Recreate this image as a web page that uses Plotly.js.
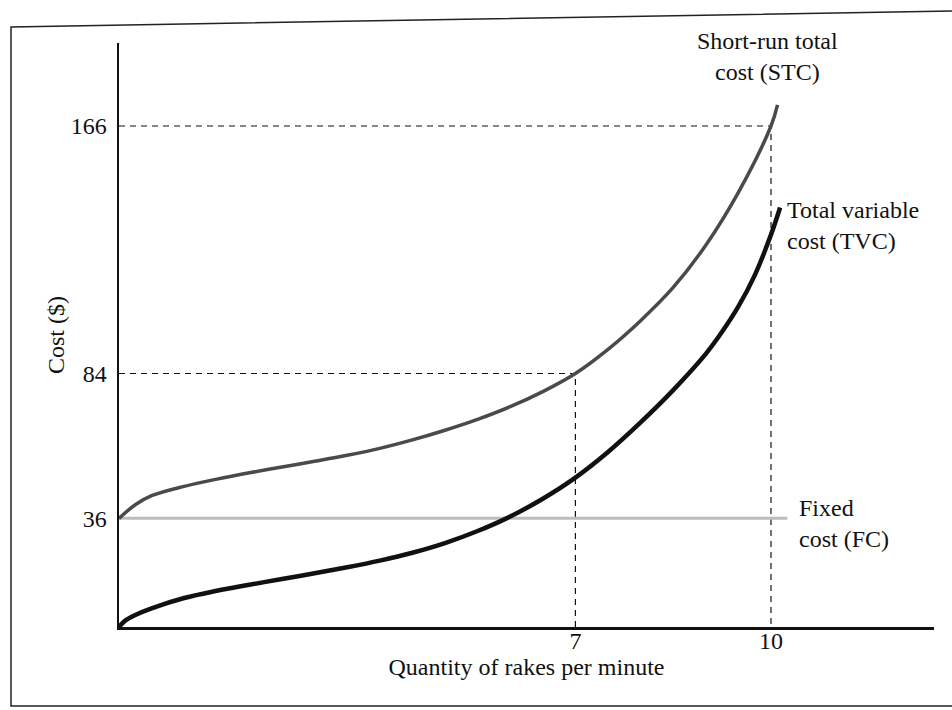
<!DOCTYPE html>
<html>
<head>
<meta charset="utf-8">
<script src="https://cdn.plot.ly/plotly-3.0.1.min.js"></script>
<style>
html, body { margin: 0; padding: 0; background: #ffffff; }
#chart { width: 952px; height: 710px; }
</style>
</head>
<body>
<div id="chart"></div>
<script>
// ---- data ----
const stcQuantity = [0, 0.25, 0.5, 1, 1.5, 2, 2.5, 3, 3.5, 4, 4.5, 5, 5.5, 6, 6.5, 7, 7.5, 8, 8.5, 9, 9.5, 10, 10.1];
const stcCost     = [36, 40.5, 43.5, 46.6, 49.0, 51.1, 53.0, 54.9, 56.9, 59.2, 62.0, 65.2, 68.8, 73, 78, 84, 92, 101.5, 112.5, 126.5, 144, 166, 173];

const tvcQuantity = [0, 0.1, 0.25, 0.5, 1, 1.5, 2, 2.5, 3, 3.5, 4, 4.5, 5, 5.5, 6, 6.5, 7, 7.5, 8, 8.5, 9, 9.25, 9.5, 9.75, 10, 10.14];
const tvcCost     = [0, 2.2, 4, 6.2, 9.6, 12, 14, 15.9, 17.8, 19.8, 22, 24.6, 27.8, 31.8, 36.6, 42.5, 49.5, 58, 67.8, 78.5, 90.5, 97.8, 106.2, 116.5, 130, 139];

const fcQuantity = [0, 10.25];
const fcCost     = [36, 36];

const markQuantity = [7, 10];        // dashed guides drop to these quantities
const markCost     = [84, 166];      // ... from these cost levels
const xTickVals = [7, 10];
const xTickText = ['7', '10'];
const yTickVals = [36, 84, 166];
const yTickText = ['36', '84', '166'];

// ---- layout geometry (pixels) ----
const W = 952, H = 710, L = 119, R = 18, T = 43, B = 83;
const plotW = W - L - R, plotH = H - T - B;
const px2paperX = px => (px - L) / plotW;
const px2paperY = py => (T + plotH - py) / plotH;

const serif = '"Liberation Serif", "Times New Roman", Times, serif';
const FS = 24;

const traces = [];

// dashed guide lines
for (let i = 0; i < markQuantity.length; i++) {
  traces.push({
    x: [0, markQuantity[i], markQuantity[i]],
    y: [markCost[i], markCost[i], 0],
    mode: 'lines',
    line: { color: '#111', width: 1.2, dash: '6px,5px' },
    hoverinfo: 'skip'
  });
}

// fixed cost
traces.push({
  x: fcQuantity, y: fcCost, mode: 'lines', name: 'FC',
  line: { color: '#bcbcbc', width: 3 }
});

// total variable cost
traces.push({
  x: tvcQuantity, y: tvcCost, mode: 'lines', name: 'TVC',
  line: { color: '#111', width: 4.5, shape: 'spline', smoothing: 1 }
});

// short-run total cost
traces.push({
  x: stcQuantity, y: stcCost, mode: 'lines', name: 'STC',
  line: { color: '#4a4a4a', width: 3.5, shape: 'spline', smoothing: 1 }
});

const layout = {
  width: W, height: H,
  margin: { l: L, r: R, t: T, b: B, pad: 0 },
  paper_bgcolor: '#ffffff', plot_bgcolor: '#ffffff',
  showlegend: false, hovermode: false,
  font: { family: serif, size: FS, color: '#111' },
  xaxis: {
    range: [0, 12.5], showgrid: false, zeroline: false,
    showline: true, linecolor: '#111', linewidth: 2.5,
    tickmode: 'array', tickvals: xTickVals, ticktext: xTickText,
    ticks: '', ticklabelstandoff: -9,
    tickfont: { family: serif, size: FS, color: '#111' },
    title: { text: 'Quantity of rakes per minute', standoff: 2, font: { family: serif, size: FS, color: '#111' } },
    fixedrange: true
  },
  yaxis: {
    range: [0, 193.5], showgrid: false, zeroline: false,
    showline: true, linecolor: '#111', linewidth: 2.5,
    tickmode: 'array', tickvals: yTickVals, ticktext: yTickText,
    ticks: '', ticklabelstandoff: 5,
    tickfont: { family: serif, size: FS, color: '#111' },
    title: { text: 'Cost ($)', standoff: 0, font: { family: serif, size: FS, color: '#111' } },
    fixedrange: true
  },
  annotations: [
    { xref: 'paper', yref: 'paper', x: px2paperX(767), y: px2paperY(56), xanchor: 'center', yanchor: 'middle',
      text: 'Short-run total<br>cost (STC)', showarrow: false, align: 'center', font: { family: serif, size: FS, color: '#111' } },
    { xref: 'paper', yref: 'paper', x: px2paperX(785), y: px2paperY(225), xanchor: 'left', yanchor: 'middle',
      text: 'Total variable<br>cost (TVC)', showarrow: false, align: 'left', font: { family: serif, size: FS, color: '#111' } },
    { xref: 'paper', yref: 'paper', x: px2paperX(797), y: px2paperY(523), xanchor: 'left', yanchor: 'middle',
      text: 'Fixed<br>cost (FC)', showarrow: false, align: 'left', font: { family: serif, size: FS, color: '#111' } }
  ],
  shapes: [
    { type: 'path', xref: 'paper', yref: 'paper',
      path: 'M ' + px2paperX(952) + ',' + px2paperY(706) +
            ' L ' + px2paperX(11) + ',' + px2paperY(706) +
            ' L ' + px2paperX(11) + ',' + px2paperY(27) +
            ' L ' + px2paperX(952) + ',' + px2paperY(11),
      line: { color: '#222', width: 1.5 } }
  ]
};

Plotly.newPlot('chart', traces, layout, { displayModeBar: false, staticPlot: true });
</script>
</body>
</html>
